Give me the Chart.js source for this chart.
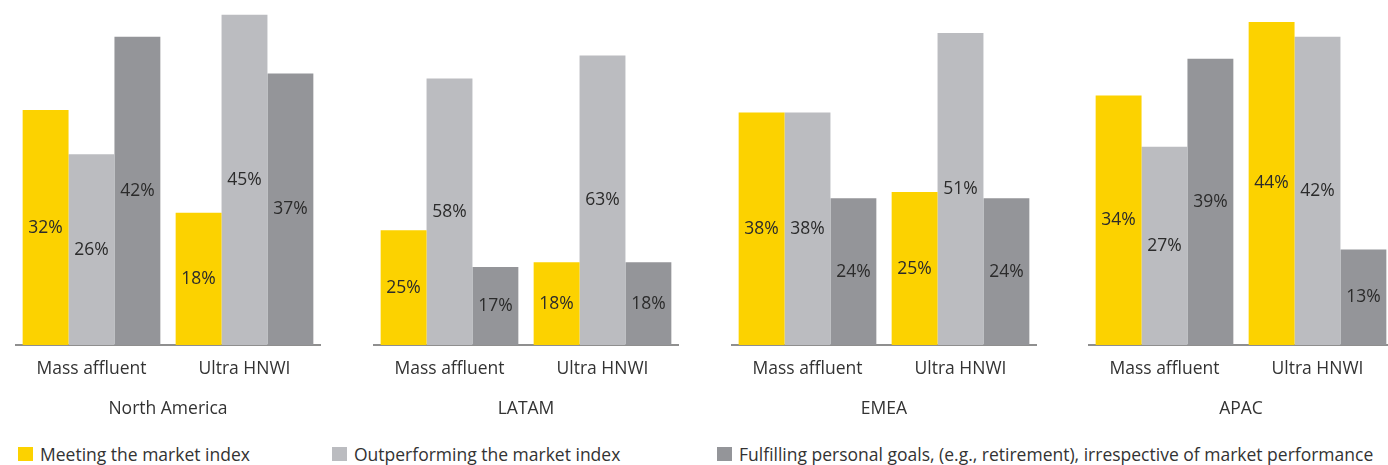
<!DOCTYPE html>
<html>
<head>
<meta charset="utf-8">
<script src="https://cdn.jsdelivr.net/npm/chart.js@4"></script>
<style>
  body { margin: 0; width: 1388px; height: 465px; overflow: hidden; background: #fff; font-family: "Open Sans", sans-serif; color: #333; }
  .panel { position: absolute; top: 0; width: 306px; height: 420px; }
  .legend-item { position: absolute; top: 444px; height: 20px; line-height: 20px; font-size: 17.5px; white-space: nowrap; }
  .legend-item span.box { position: absolute; left: 0; top: 3px; width: 15px; height: 14px; }
  .legend-item span.txt { position: absolute; left: 22px; top: 0; }
</style>
</head>
<body>
<div class="panel" style="left:15px"><canvas id="c0"></canvas></div>
<div class="panel" style="left:372.8px"><canvas id="c1"></canvas></div>
<div class="panel" style="left:730.6px"><canvas id="c2"></canvas></div>
<div class="panel" style="left:1088.4px"><canvas id="c3"></canvas></div>
<div id="legend"></div>

<script>
const regions = ['North America', 'LATAM', 'EMEA', 'APAC'];
const segments = ['Mass affluent', 'Ultra HNWI'];
const seriesNames = [
    'Meeting the market index',
    'Outperforming the market index',
    'Fulfilling personal goals, (e.g., retirement), irrespective of market performance'
];
// per region: [Mass affluent, Ultra HNWI]
const meeting = [[32, 18], [25, 18], [38, 25], [34, 44]];
const outperforming = [[26, 45], [58, 63], [38, 51], [27, 42]];
const fulfilling = [[42, 37], [17, 18], [24, 24], [39, 13]];
const yMax = [47, 75.1, 56.4, 47];

const colors = ['#FCD200', '#BBBCC0', '#949599'];
const legendLeft = [18, 332, 717];

// value labels in the middle of each bar
const barLabels = {
    id: 'barLabels',
    afterDatasetsDraw(chart) {
        const ctx = chart.ctx;
        ctx.save();
        ctx.font = '17.5px "Open Sans"';
        ctx.fillStyle = '#2b2b2b';
        ctx.textAlign = 'center';
        ctx.textBaseline = 'middle';
        chart.data.datasets.forEach(function(ds, i) {
            chart.getDatasetMeta(i).data.forEach(function(bar, j) {
                ctx.fillText(ds.data[j] + '%', bar.x, (bar.y + bar.base) / 2);
            });
        });
        ctx.restore();
    }
};

regions.forEach(function(region, r) {
    const ctx = document.getElementById('c' + r).getContext('2d');
    new Chart(ctx, {
        type: 'bar',
        data: {
            labels: segments,
            datasets: [meeting[r], outperforming[r], fulfilling[r]].map(function(vals, s) {
                return {
                    label: seriesNames[s],
                    data: vals,
                    backgroundColor: colors[s],
                    borderWidth: 0,
                    barPercentage: 1,
                    categoryPercentage: 0.9
                };
            })
        },
        options: {
            responsive: true,
            maintainAspectRatio: false,
            animation: false,
            layout: { padding: 0 },
            scales: {
                x: {
                    grid: { display: false, drawTicks: false },
                    border: { display: true, color: '#8f8f8f', width: 2 },
                    ticks: { color: '#333', font: { family: 'Open Sans', size: 17.5 }, padding: 14 },
                    title: {
                        display: true,
                        text: region,
                        color: '#333',
                        font: { family: 'Open Sans', size: 17.5 },
                        padding: { top: 5, bottom: 0 }
                    }
                },
                y: {
                    display: false,
                    min: 0,
                    max: yMax[r]
                }
            },
            plugins: {
                legend: { display: false },
                tooltip: { enabled: false }
            }
        },
        plugins: [barLabels]
    });
});

// legend
const legend = document.getElementById('legend');
seriesNames.forEach(function(name, s) {
    const item = document.createElement('div');
    item.className = 'legend-item';
    item.style.left = legendLeft[s] + 'px';
    item.innerHTML = '<span class="box" style="background:' + colors[s] + '"></span><span class="txt">' + name + '</span>';
    legend.appendChild(item);
});
</script>
</body>
</html>
